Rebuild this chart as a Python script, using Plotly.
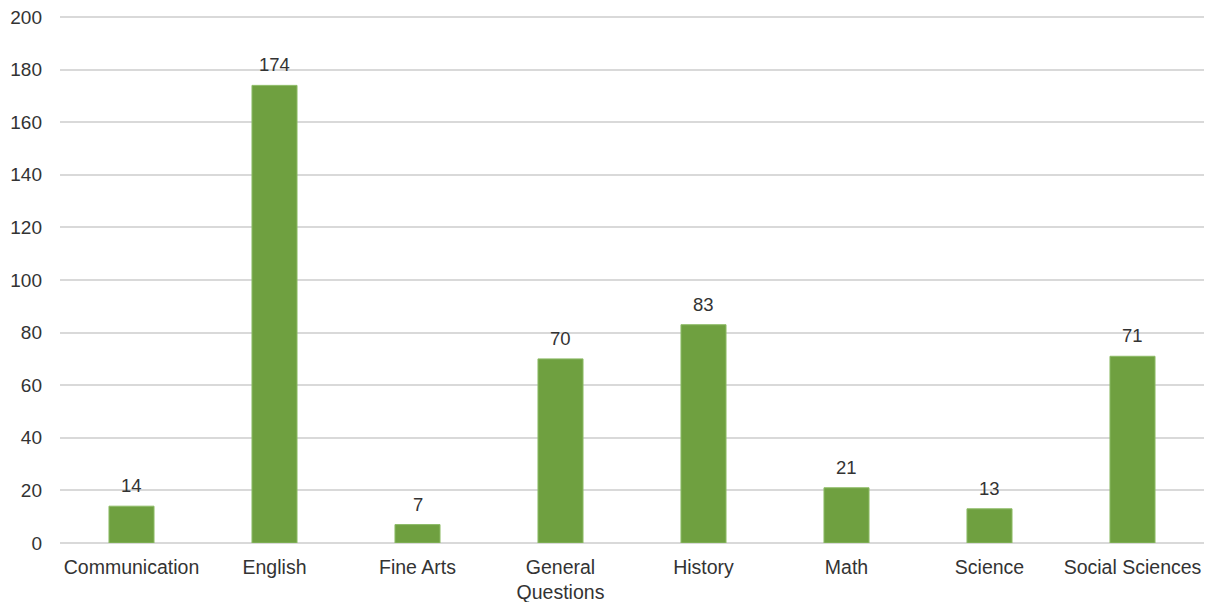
import plotly.graph_objects as go

categories = ["Communication", "English", "Fine Arts", "General<br>Questions", "History", "Math", "Science", "Social Sciences"]
values = [14, 174, 7, 70, 83, 21, 13, 71]
y_ticks = [0, 20, 40, 60, 80, 100, 120, 140, 160, 180, 200]

FONT = "Liberation Sans, Arial"

fig = go.Figure()
fig.add_trace(go.Bar(
    x=categories, y=values,
    marker=dict(color="#6FA040", line=dict(color="#8DBB66", width=1)),
    cliponaxis=False,
))
for c, v in zip(categories, values):
    fig.add_annotation(x=c, y=v, text=str(v), showarrow=False, yanchor="bottom", yshift=8,
                       font=dict(family=FONT, size=18.5, color="#333333"))
fig.update_layout(
    width=1209, height=602,
    margin=dict(l=60, r=5, t=14, b=59),
    paper_bgcolor="white", plot_bgcolor="white",
    bargap=0.685,
    showlegend=False,
    font=dict(family=FONT, size=19, color="#333333"),
    xaxis=dict(showgrid=False, showline=False, ticks="", tickfont=dict(size=19.5), automargin=False,
               ticklabelstandoff=10),
    yaxis=dict(range=[0, 201.14], tickvals=y_ticks, showgrid=True, gridcolor="#D9D9D9", gridwidth=1.5,
               zeroline=True, zerolinecolor="#D9D9D9", zerolinewidth=1.5, ticks="", ticklabelstandoff=17,
               tickfont=dict(size=19), automargin=False),
)
fig.write_html("out.html", config={"displayModeBar": False},
               post_script="document.body.style.margin='0';document.body.style.overflow='hidden';")
